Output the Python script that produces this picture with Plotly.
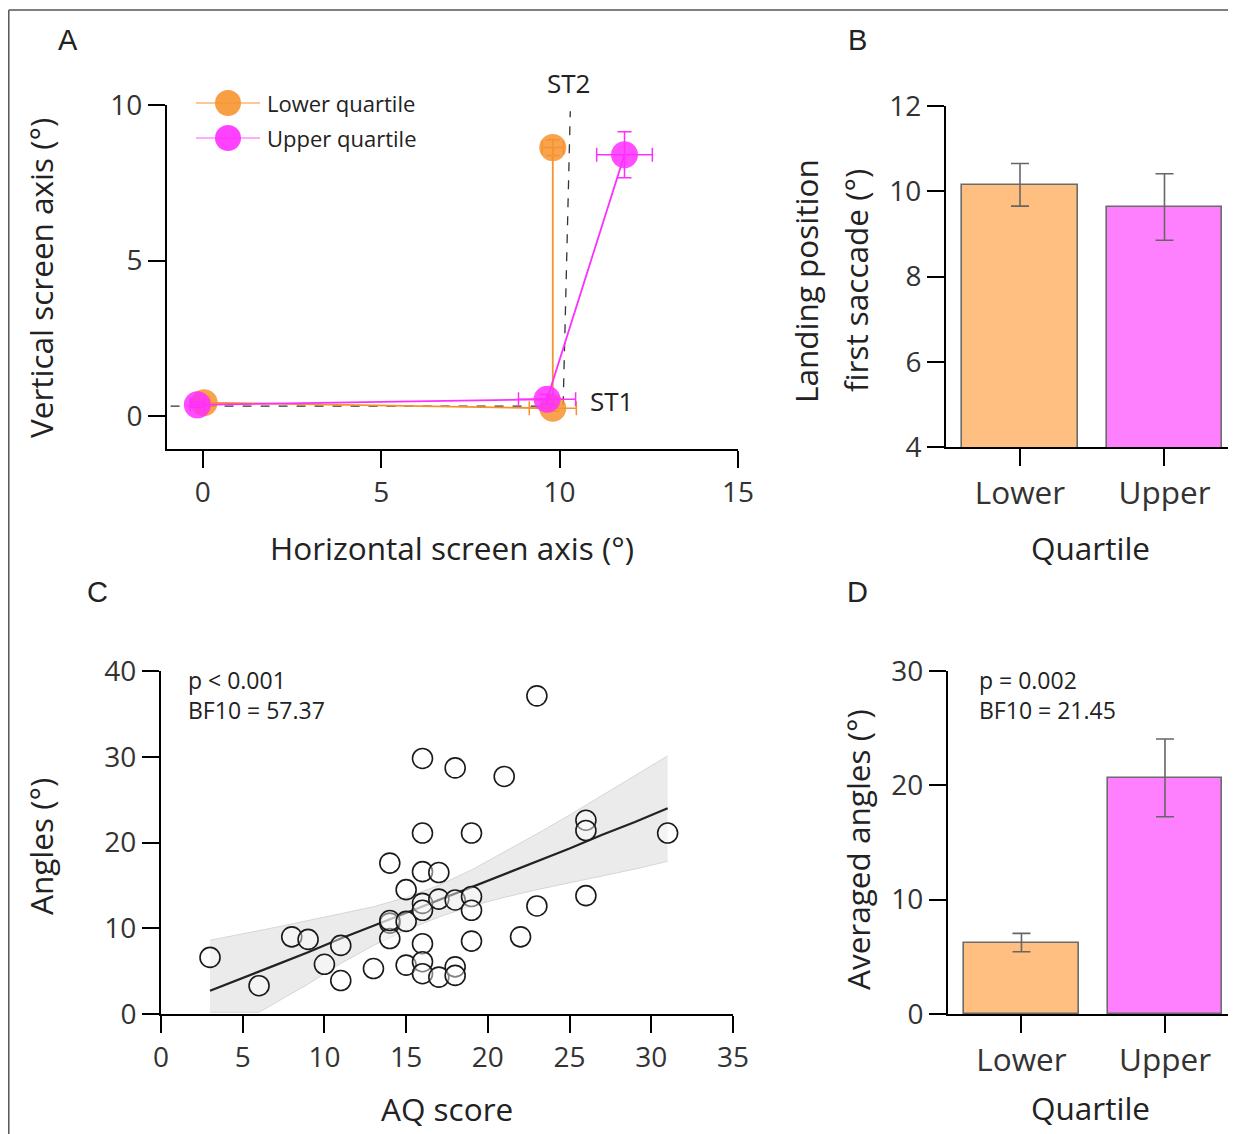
import plotly.graph_objects as go

W, H = 1236, 1134
OFF = 8  # the page body adds an 8px offset; compensate so marks land where the reference has them

# ---------------- Panel A data ----------------
a_lower_x = [0.04, 9.81, 9.81]
a_lower_y = [0.43, 0.25, 8.63]
a_lower_xerr = [0.15, 0.66, 0.30]
a_lower_yerr = [0.08, 0.10, 0.25]
a_upper_x = [-0.15, 9.65, 11.82]
a_upper_y = [0.36, 0.54, 8.40]
a_upper_xerr = [0.20, 0.80, 0.78]
a_upper_yerr = [0.08, 0.15, 0.74]
st_h_x = [-0.9, 10.1]
st_h_y = [0.32, 0.32]
st_v_x = [10.1, 10.3]
st_v_y = [0.35, 9.8]
a_xticks = [0, 5, 10, 15]
a_yticks = [0, 5, 10]

# ---------------- Panel B data ----------------
quartiles = ["Lower", "Upper"]
b_values = [10.15, 9.63]
b_errors = [0.50, 0.78]
b_yticks = [4, 6, 8, 10, 12]

# ---------------- Panel C data ----------------
aq_score = [3, 6, 8, 9, 10, 11, 11, 13, 14, 14, 14, 14, 15, 15, 15,
            16, 16, 16, 16, 16, 16, 16, 16, 17, 17, 17, 18, 18, 18, 18,
            19, 19, 19, 19, 21, 22, 23, 23, 26, 26, 26, 31]
angles = [6.6, 3.3, 9.0, 8.7, 5.8, 8.0, 3.9, 5.3, 17.6, 10.6, 8.8, 10.9, 14.5, 10.8, 5.7,
          29.8, 21.1, 16.6, 12.9, 12.1, 8.2, 6.1, 4.7, 16.5, 13.4, 4.3, 28.7, 13.3, 5.5, 4.5,
          21.1, 13.7, 12.1, 8.5, 27.7, 9.0, 37.1, 12.6, 22.6, 21.4, 13.8, 21.1]
fit_x = [3, 6, 7, 9, 11, 13, 15, 17, 19, 21, 23, 25, 27, 29, 31]
fit_y = [2.7, 4.9, 5.7, 7.2, 8.8, 10.3, 11.8, 13.3, 14.8, 16.3, 17.8, 19.3, 20.9, 22.4, 24.0]
fit_upper = [8.6, 9.7, 10.1, 10.9, 11.7, 12.5, 13.6, 15.0, 16.8, 18.9, 21.0, 23.2, 25.5, 27.8, 30.1]
fit_lower = [0.2, 0.2, 1.3, 3.5, 5.9, 8.0, 9.8, 11.3, 12.6, 13.6, 14.5, 15.3, 16.1, 16.9, 17.8]
c_xticks = [0, 5, 10, 15, 20, 25, 30, 35]
c_yticks = [0, 10, 20, 30, 40]

# ---------------- Panel D data ----------------
d_values = [6.25, 20.65]
d_errors = [0.80, 3.40]
d_yticks = [0, 10, 20, 30]

# ---------------- styling ----------------
FONT = "Open Sans"
TXT = "#222222"
ORANGE = "#F7932F"
MAGENTA = "#FF2EFF"
ORANGE_BAR = "#FFBF80"
MAGENTA_BAR = "#FF80FF"
TICK_SIZE = 28
CAT_SIZE = 31.5
TITLE_SIZE = 31.5


def px_x(p):
    return (p - OFF) / W


def px_y(p):
    return 1 - (p - OFF) / H


fig = go.Figure()

# Panel A traces
fig.add_trace(go.Scatter(x=st_h_x, y=st_h_y, mode="lines", xaxis="x", yaxis="y",
                         line=dict(color="#333333", width=1.3, dash="dash"), showlegend=False))
fig.add_trace(go.Scatter(x=st_v_x, y=st_v_y, mode="lines", xaxis="x", yaxis="y",
                         line=dict(color="#333333", width=1.3, dash="dash"), showlegend=False))
fig.add_trace(go.Scatter(
    x=a_lower_x, y=a_lower_y, mode="lines+markers", name="Lower quartile",
    xaxis="x", yaxis="y",
    line=dict(color=ORANGE, width=1.8),
    marker=dict(size=27, color=ORANGE, opacity=0.85, line=dict(width=0)),
    error_x=dict(type="data", array=a_lower_xerr, color=ORANGE, thickness=1.5, width=7),
    error_y=dict(type="data", array=a_lower_yerr, color=ORANGE, thickness=1.5, width=7),
    showlegend=False))
fig.add_trace(go.Scatter(
    x=a_upper_x, y=a_upper_y, mode="lines+markers", name="Upper quartile",
    xaxis="x", yaxis="y",
    line=dict(color=MAGENTA, width=1.8),
    marker=dict(size=27, color=MAGENTA, opacity=0.85, line=dict(width=0)),
    error_x=dict(type="data", array=a_upper_xerr, color=MAGENTA, thickness=1.5, width=7),
    error_y=dict(type="data", array=a_upper_yerr, color=MAGENTA, thickness=1.5, width=7),
    showlegend=False))

# Panel B bars
fig.add_trace(go.Bar(
    x=[0, 1], y=b_values, xaxis="x2", yaxis="y2", width=0.8,
    marker=dict(color=[ORANGE_BAR, MAGENTA_BAR], line=dict(color="#6b6b6b", width=1.6)),
    error_y=dict(type="data", array=b_errors, color="#666666", thickness=1.6, width=9),
    showlegend=False))

# Panel C
fig.add_trace(go.Scatter(x=fit_x, y=fit_upper, mode="lines", xaxis="x3", yaxis="y3",
                         line=dict(color="#d6d6d6", width=1), showlegend=False))
fig.add_trace(go.Scatter(x=fit_x, y=fit_lower, mode="lines", xaxis="x3", yaxis="y3",
                         line=dict(color="#d6d6d6", width=1), fill="tonexty",
                         fillcolor="#ebebeb", showlegend=False))
fig.add_trace(go.Scatter(x=fit_x, y=fit_y, mode="lines", xaxis="x3", yaxis="y3",
                         line=dict(color="#222222", width=2.2), showlegend=False))
fig.add_trace(go.Scatter(x=aq_score, y=angles, mode="markers", xaxis="x3", yaxis="y3",
                         marker=dict(size=20, color="rgba(255,255,255,0.45)",
                                     line=dict(color="#1a1a1a", width=1.6)),
                         showlegend=False))

# Panel D bars
fig.add_trace(go.Bar(
    x=[0, 1], y=d_values, xaxis="x4", yaxis="y4", width=0.8,
    marker=dict(color=[ORANGE_BAR, MAGENTA_BAR], line=dict(color="#6b6b6b", width=1.6)),
    error_y=dict(type="data", array=d_errors, color="#666666", thickness=1.6, width=9),
    showlegend=False))

axis_common = dict(showgrid=False, zeroline=False, showline=True, linecolor="black",
                   linewidth=2, ticks="outside", ticklen=17, tickwidth=2, tickcolor="black",
                   automargin=False,
                   tickfont=dict(family=FONT, size=TICK_SIZE, color="#333333"), fixedrange=True)

fig.update_layout(
    template="none",
    width=W, height=H,
    margin=dict(l=0, r=0, t=0, b=0, pad=0, autoexpand=False),
    paper_bgcolor="white", plot_bgcolor="rgba(0,0,0,0)",
    font=dict(family=FONT, color=TXT),
    showlegend=False,
    bargap=0,
    xaxis=dict(axis_common, domain=[px_x(167), px_x(738)], range=[-1, 15],
               tickvals=a_xticks, anchor="y"),
    yaxis=dict(axis_common, domain=[px_y(449), px_y(105)], range=[-1.06, 10],
               tickvals=a_yticks, anchor="x"),
    xaxis2=dict(axis_common, domain=[px_x(946), px_x(1236)], range=[-0.512, 1.495],
                tickvals=[0, 1], ticktext=quartiles, anchor="y2",
                tickfont=dict(family=FONT, size=CAT_SIZE, color="#333333")),
    yaxis2=dict(axis_common, domain=[px_y(447), px_y(106)], range=[4, 12],
                tickvals=b_yticks, anchor="x2"),
    xaxis3=dict(axis_common, domain=[px_x(161), px_x(733)], range=[0, 35],
                tickvals=c_xticks, anchor="y3"),
    yaxis3=dict(axis_common, domain=[px_y(1014), px_y(671)], range=[0, 40],
                tickvals=c_yticks, anchor="x3"),
    xaxis4=dict(axis_common, domain=[px_x(948), px_x(1236)], range=[-0.512, 1.495],
                tickvals=[0, 1], ticktext=quartiles, anchor="y4",
                tickfont=dict(family=FONT, size=CAT_SIZE, color="#333333")),
    yaxis4=dict(axis_common, domain=[px_y(1014), px_y(671)], range=[0, 30],
                tickvals=d_yticks, anchor="x4"),
)

annotations = []


def add_text(text, x, y, size, xanchor="center", yanchor="middle", angle=0, color=TXT, family=FONT):
    annotations.append(dict(text=text, x=px_x(x), y=px_y(y), xref="paper", yref="paper",
                            showarrow=False, xanchor=xanchor, yanchor=yanchor,
                            textangle=angle, font=dict(family=family, size=size, color=color)))


# panel letters
LETTER_FONT = "Liberation Sans Narrow, Liberation Sans, Arial"
add_text("A", 68, 40, 29, family=LETTER_FONT)
add_text("B", 857, 40, 29, family=LETTER_FONT)
add_text("C", 97, 592, 29, family=LETTER_FONT)
add_text("D", 857, 592, 29, family=LETTER_FONT)

# axis titles
add_text("Horizontal screen axis (°)", 452, 547, TITLE_SIZE)
add_text("Vertical screen axis (°)", 40, 278, TITLE_SIZE, angle=-90)
add_text("Quartile", 1090, 547, TITLE_SIZE)
add_text("Landing position", 806, 281, TITLE_SIZE, angle=-90)
add_text("first saccade (°)", 856, 281, TITLE_SIZE, angle=-90)
add_text("AQ score", 447, 1108, TITLE_SIZE)
add_text("Angles (°)", 40, 847, TITLE_SIZE, angle=-90)
add_text("Quartile", 1090, 1107, TITLE_SIZE)
add_text("Averaged angles (°)", 857, 850, TITLE_SIZE, angle=-90)

# panel A labels
add_text("ST2", 568, 83, 26)
add_text("ST1", 588, 401, 26, xanchor="left")

# stats text
add_text("p < 0.001", 186, 680, 23, xanchor="left")
add_text("BF10 = 57.37", 186, 710, 23, xanchor="left")
add_text("p = 0.002", 977, 680, 23, xanchor="left")
add_text("BF10 = 21.45", 977, 710, 23, xanchor="left")

# legend (manual)
legend_items = [("Lower quartile", ORANGE, "#FBB470", 103), ("Upper quartile", MAGENTA, "#FF8CFF", 138)]
shapes = []
for label, col, lcol, yy in legend_items:
    shapes.append(dict(type="line", xref="paper", yref="paper",
                       x0=px_x(196), x1=px_x(260), y0=px_y(yy), y1=px_y(yy),
                       line=dict(color=lcol, width=1.5)))
    shapes.append(dict(type="circle", xref="paper", yref="paper",
                       x0=px_x(215), x1=px_x(241), y0=px_y(yy + 13), y1=px_y(yy - 13),
                       fillcolor=col, opacity=0.9, line=dict(width=0)))
    add_text(label, 265, yy, 22, xanchor="left")

# frame border
shapes.append(dict(type="line", xref="paper", yref="paper", x0=px_x(8.8), x1=1.0,
                   y0=px_y(10), y1=px_y(10), line=dict(color="#555555", width=1.5)))
shapes.append(dict(type="line", xref="paper", yref="paper", x0=px_x(8.8), x1=px_x(8.8),
                   y0=px_y(10), y1=0.0, line=dict(color="#555555", width=1.5)))

fig.update_layout(annotations=annotations, shapes=shapes)

fig.write_html("out.html")
